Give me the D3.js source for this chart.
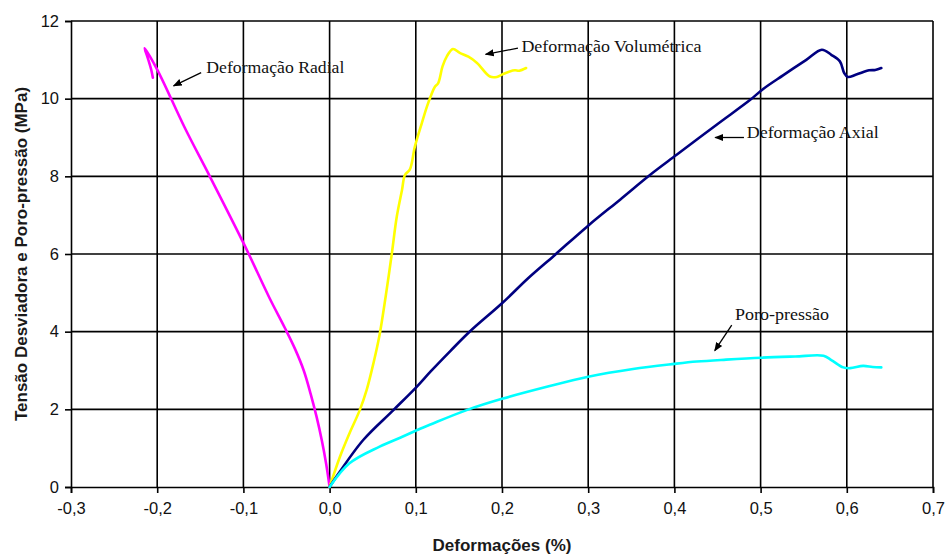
<!DOCTYPE html>
<html>
<head>
<meta charset="utf-8">
<script src="https://cdn.jsdelivr.net/npm/d3@7"></script>
<style>
  html, body { margin: 0; padding: 0; background: #fff; }
  svg { display: block; }
</style>
</head>
<body>
<svg id="chart" width="946" height="555"></svg>
<script>
// Strain (%) vs. deviator stress / pore pressure (MPa)
const xTicks = [-0.3, -0.2, -0.1, 0.0, 0.1, 0.2, 0.3, 0.4, 0.5, 0.6, 0.7];
const yTicks = [0, 2, 4, 6, 8, 10, 12];

// Deformação Radial: [strain, stress]
const radial = [
  [0, 0], [-0.004, 0.6], [-0.009, 1.2], [-0.015, 1.8], [-0.022, 2.4],
  [-0.03, 3.0], [-0.04, 3.55], [-0.052, 4.1], [-0.07, 4.88], [-0.099, 6.24],
  [-0.139, 8.0], [-0.168, 9.25], [-0.2, 10.75], [-0.2146, 11.3], [-0.211, 11.05],
  [-0.207, 10.75], [-0.205, 10.54]
];

// Deformação Volumétrica
const volumetric = [
  [0, 0], [0.012, 0.78], [0.023, 1.38], [0.035, 1.98], [0.043, 2.5],
  [0.051, 3.2], [0.058, 3.92], [0.065, 4.9], [0.072, 5.98], [0.078, 6.97],
  [0.084, 7.65], [0.0875, 8.04], [0.093, 8.17], [0.099, 8.77], [0.107, 9.37],
  [0.113, 9.8], [0.118, 10.1], [0.122, 10.3], [0.126, 10.4], [0.131, 10.83],
  [0.136, 11.09], [0.143, 11.28], [0.151, 11.18], [0.161, 11.08], [0.171, 10.92],
  [0.186, 10.57], [0.194, 10.56], [0.2, 10.62], [0.209, 10.7], [0.215, 10.73],
  [0.22, 10.72], [0.228, 10.79]
];

// Deformação Axial
const axial = [
  [0, 0], [0.008, 0.27], [0.039, 1.21], [0.074, 1.98], [0.101, 2.58],
  [0.117, 2.97], [0.14, 3.5], [0.163, 4.01], [0.2, 4.73], [0.23, 5.37],
  [0.261, 5.97], [0.3, 6.73], [0.337, 7.4], [0.372, 8.04], [0.403, 8.56],
  [0.449, 9.33], [0.488, 9.97], [0.503, 10.25], [0.526, 10.6], [0.553, 11.0],
  [0.571, 11.26], [0.582, 11.13], [0.592, 10.96], [0.597, 10.66], [0.601, 10.56],
  [0.611, 10.62], [0.626, 10.73], [0.633, 10.74], [0.640, 10.79]
];

// Poro-pressão
const porePressure = [
  [0, 0], [0.023, 0.61], [0.058, 1.04], [0.085, 1.3], [0.105, 1.5],
  [0.117, 1.61], [0.159, 1.98], [0.2, 2.27], [0.252, 2.58], [0.3, 2.84],
  [0.352, 3.04], [0.4, 3.17], [0.426, 3.23], [0.46, 3.28], [0.501, 3.33],
  [0.54, 3.36], [0.573, 3.38], [0.582, 3.27], [0.596, 3.08], [0.604, 3.06],
  [0.619, 3.12], [0.63, 3.09], [0.640, 3.08]
];

const seriesNames = ["Deformação Radial", "Deformação Volumétrica", "Deformação Axial", "Poro-pressão"];
const seriesColors = ["#ff00ff", "#ffff00", "#000080", "#00ffff"];
const seriesData = [radial, volumetric, axial, porePressure];

// Callout labels: text anchor and arrow (from -> to), in data units
const callouts = [
  { text: seriesNames[0], at: [-0.143, 10.67], from: [-0.149, 10.67], to: [-0.181, 10.33], width: 138 },
  { text: seriesNames[1], at: [0.2225, 11.21], from: [0.2185, 11.30], to: [0.181, 11.14], width: 180 },
  { text: seriesNames[2], at: [0.4839, 8.98], from: [0.4807, 9.0], to: [0.4473, 9.0], width: 132 },
  { text: seriesNames[3], at: [0.4703, 4.30], from: [0.4665, 4.17], to: [0.4468, 3.51], width: 94 }
];

const margin = { top: 21, right: 13, bottom: 68, left: 71 };
const W = 946, H = 555;
const iw = W - margin.left - margin.right;
const ih = H - margin.top - margin.bottom;

const svg = d3.select("#chart");
const defs = svg.append("defs");
defs.append("marker")
  .attr("id", "arrow")
  .attr("viewBox", "0 0 10 10")
  .attr("refX", 9).attr("refY", 5)
  .attr("markerWidth", 9).attr("markerHeight", 9)
  .attr("markerUnits", "userSpaceOnUse")
  .attr("orient", "auto")
  .append("path").attr("d", "M0,1 L10,5 L0,9 Z").attr("fill", "#000");

const g = svg.append("g").attr("transform", `translate(${margin.left},${margin.top})`);

const x = d3.scaleLinear().domain([-0.3, 0.7]).range([0, iw]);
const y = d3.scaleLinear().domain([0, 12]).range([ih, 0]);

const loc = d3.formatLocale({ decimal: ",", thousands: ".", grouping: [3], currency: ["", ""], minus: "-" });
const fx = loc.format(".1f");

// Grid
g.append("g").selectAll("line").data(xTicks.slice(1)).join("line")
  .attr("x1", d => x(d)).attr("x2", d => x(d))
  .attr("y1", 0).attr("y2", ih)
  .attr("stroke", "#000").attr("stroke-width", 1.6);
g.append("g").selectAll("line").data(yTicks.slice(1)).join("line")
  .attr("x1", 0).attr("x2", iw)
  .attr("y1", d => y(d)).attr("y2", d => y(d))
  .attr("stroke", "#000").attr("stroke-width", 1.6);

// Axes
const xAxis = g.append("g").attr("transform", `translate(0,${ih})`)
  .call(d3.axisBottom(x).tickValues(xTicks).tickFormat(fx).tickSize(6).tickPadding(9));
const yAxis = g.append("g")
  .call(d3.axisLeft(y).tickValues(yTicks).tickFormat(d3.format("d")).tickSize(6).tickPadding(6));
[xAxis, yAxis].forEach(a => {
  a.select(".domain").attr("stroke", "#000").attr("stroke-width", 1.6);
  a.selectAll(".tick line").attr("stroke", "#000").attr("stroke-width", 1.6);
  a.selectAll(".tick text")
    .attr("fill", "#111")
    .style("font-family", "'Liberation Sans', Arial, sans-serif")
    .style("font-size", "16.5px");
});

// Series
const line = d3.line().curve(d3.curveCatmullRom.alpha(0.5)).x(d => x(d[0])).y(d => y(d[1]));
g.append("g").selectAll("path").data(seriesData).join("path")
  .attr("d", line)
  .attr("fill", "none")
  .attr("stroke", (d, i) => seriesColors[i])
  .attr("stroke-width", 2.6)
  .attr("stroke-linejoin", "round")
  .attr("stroke-linecap", "round");

// Callouts
const cg = g.append("g");
cg.selectAll("line").data(callouts).join("line")
  .attr("x1", d => x(d.from[0])).attr("y1", d => y(d.from[1]))
  .attr("x2", d => x(d.to[0])).attr("y2", d => y(d.to[1]))
  .attr("stroke", "#000").attr("stroke-width", 1.3)
  .attr("marker-end", "url(#arrow)");
cg.selectAll("text").data(callouts).join("text")
  .attr("x", d => x(d.at[0])).attr("y", d => y(d.at[1]))
  .attr("textLength", d => d.width)
  .attr("lengthAdjust", "spacingAndGlyphs")
  .style("font-family", "'Liberation Serif', 'Times New Roman', serif")
  .style("font-size", "17px")
  .attr("fill", "#111")
  .text(d => d.text);

// Axis titles
svg.append("text")
  .attr("x", margin.left + iw / 2).attr("y", 551)
  .attr("text-anchor", "middle")
  .style("font-family", "'Liberation Sans', Arial, sans-serif")
  .style("font-size", "17px").style("font-weight", "bold")
  .attr("fill", "#1a1a1a")
  .text("Deformações (%)");
svg.append("text")
  .attr("transform", `translate(27,${margin.top + ih / 2}) rotate(-90)`)
  .attr("text-anchor", "middle")
  .style("font-family", "'Liberation Sans', Arial, sans-serif")
  .style("font-size", "17px").style("font-weight", "bold")
  .attr("fill", "#1a1a1a")
  .text("Tensão Desviadora e Poro-pressão (MPa)");
</script>
</body>
</html>
